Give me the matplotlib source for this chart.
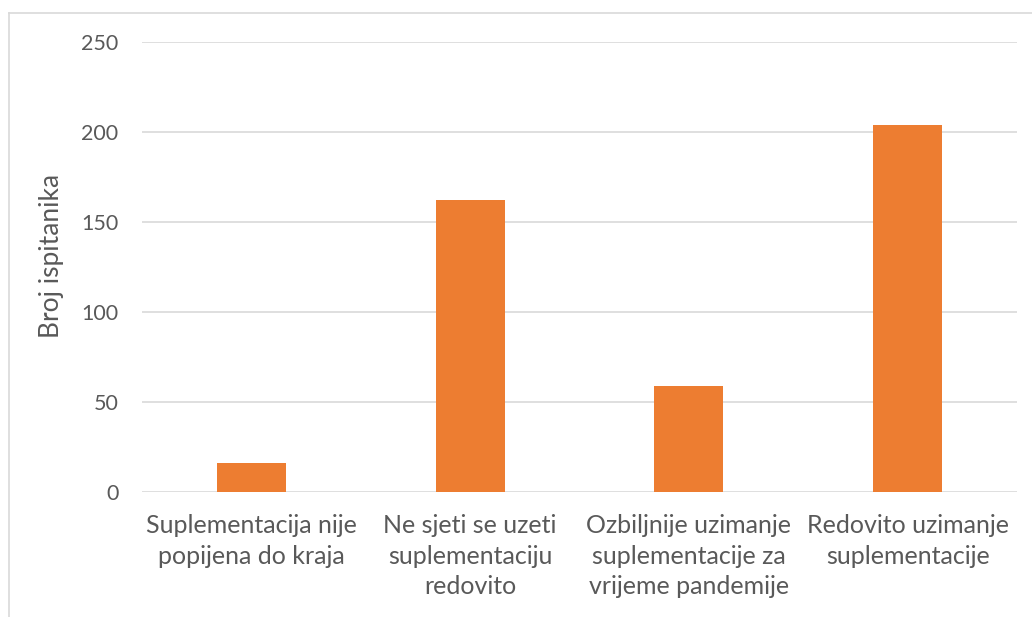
import matplotlib.pyplot as plt
from matplotlib.lines import Line2D

categories = [
    "Suplementacija nije\npopijena do kraja",
    "Ne sjeti se uzeti\nsuplementaciju\nredovito",
    "Ozbiljnije uzimanje\nsuplementacije za\nvrijeme pandemije",
    "Redovito uzimanje\nsuplementacije",
]
counts = [16, 162, 59, 204]
y_ticks = [0, 50, 100, 150, 200, 250]

W, H = 1032, 617
TEXT = "#595959"
GRID = "#D9D9D9"

plt.rcParams["font.family"] = ["Lato", "DejaVu Sans"]

fig = plt.figure(figsize=(W / 100, H / 100), dpi=100)
# plot area in pixel coords: x 142..1017, y 42..492
ax = fig.add_axes([142 / W, 1 - 492 / H, 875 / W, 450 / H])

x = range(len(categories))
ax.bar(x, counts, width=0.315, color="#ED7D31", zorder=3)

ax.set_xlim(-0.5, len(categories) - 0.5)
ax.set_ylim(0, 250)
ax.set_yticks(y_ticks)
ax.set_yticklabels([str(t) for t in y_ticks], fontsize=15.5, color=TEXT)
ax.set_xticks(list(x))
ax.set_xticklabels(categories, fontsize=18, color=TEXT, linespacing=1.4, va="top")
ax.tick_params(axis="both", length=0)
ax.tick_params(axis="y", pad=17)
ax.tick_params(axis="x", pad=16)
ax.grid(axis="y", color=GRID, linewidth=1.2, zorder=0)
for s in ax.spines.values():
    s.set_visible(False)

ax.set_ylabel("Broj ispitanika", fontsize=19, color=TEXT)
ax.yaxis.set_label_coords(-0.089, 0.524)

# chart frame: only top and left edges visible
fig.add_artist(Line2D([9 / W, 1], [1 - 13 / H, 1 - 13 / H], color="#D9D9D9", linewidth=1.2))
fig.add_artist(Line2D([9 / W, 9 / W], [0, 1 - 13 / H], color="#D9D9D9", linewidth=1.2))

fig.savefig("out.png", dpi=100)
